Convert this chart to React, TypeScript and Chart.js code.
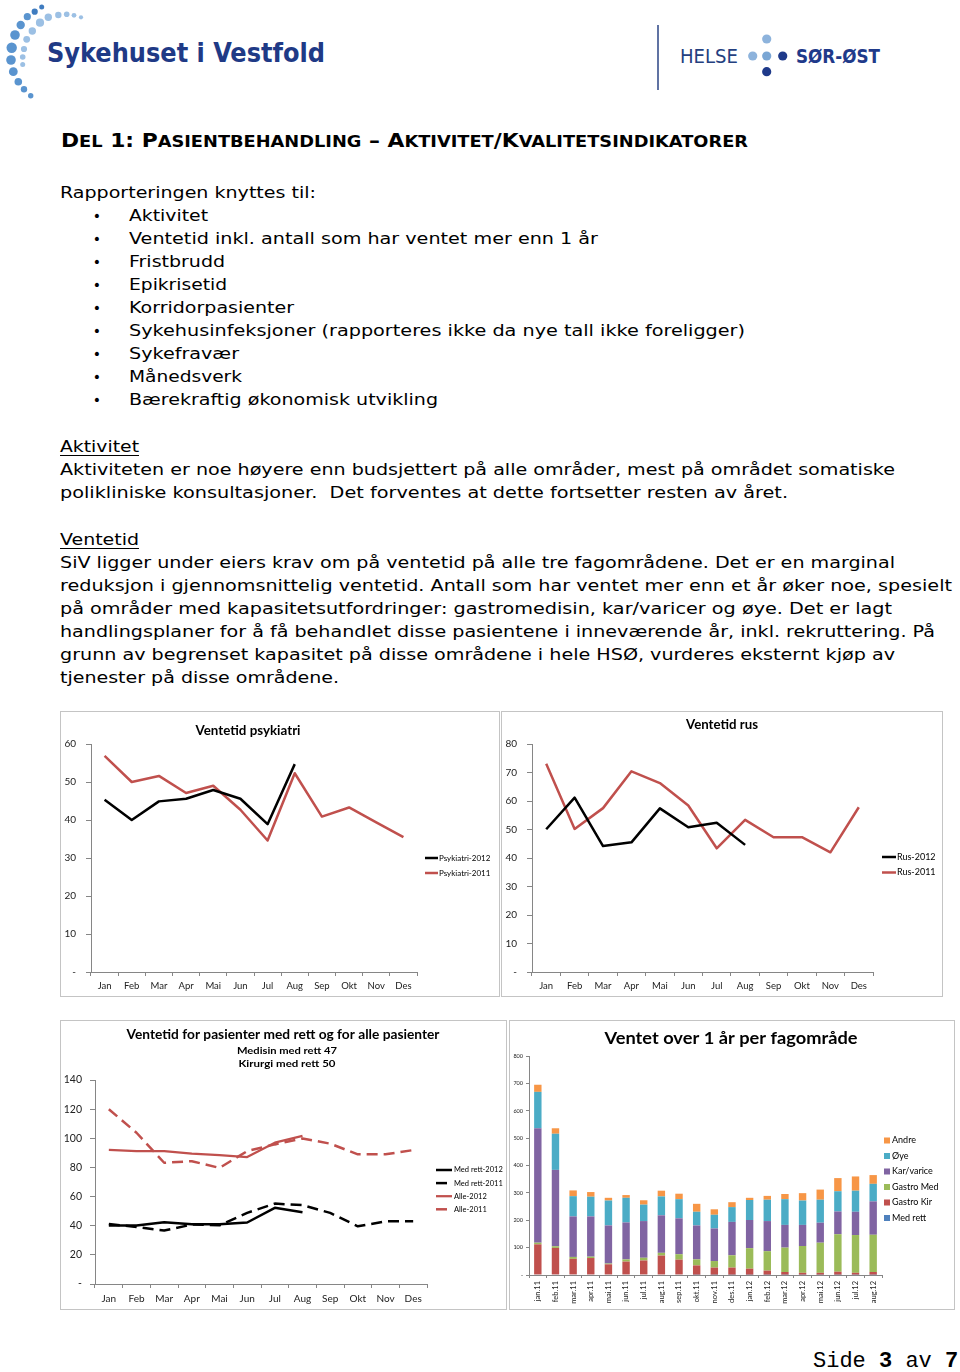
import React, { useEffect, useRef } from 'react';
import { Chart, registerables } from 'chart.js';
Chart.register(...registerables);

// ---------- DATA ----------
const months = ['Jan', 'Feb', 'Mar', 'Apr', 'Mai', 'Jun', 'Jul', 'Aug', 'Sep', 'Okt', 'Nov', 'Des'];

const psykiatri2012 = [45.3, 40.0, 44.9, 45.6, 47.9, 45.6, 38.9, 54.7];
const psykiatri2011 = [56.9, 50.0, 51.6, 47.1, 49.0, 42.7, 34.6, 52.3, 40.9, 43.3, 39.4, 35.5];

const rus2012 = [50.1, 61.2, 44.2, 45.5, 57.4, 50.8, 52.4, 44.6];
const rus2011 = [73.1, 50.2, 57.5, 70.4, 66.3, 58.4, 43.4, 53.4, 47.3, 47.3, 42.0, 57.8];

const medRett2012 = [40.1, 40.1, 42.4, 41.0, 41.0, 42.2, 52.3, 49.3];
const medRett2011 = [41.2, 39.1, 36.7, 40.8, 40.3, 48.8, 55.2, 54.1, 48.8, 39.6, 43.0, 43.0];
const alle2012 = [92.1, 91.2, 91.2, 89.4, 88.5, 87.1, 97.0, 101.7];
const alle2011 = [119.9, 103.8, 83.2, 84.3, 79.7, 91.2, 95.8, 99.9, 96.3, 89.0, 89.0, 91.9];

const periods = ['jan.11', 'feb.11', 'mar.11', 'apr.11', 'mai.11', 'jun.11', 'jul.11', 'aug.11', 'sep.11', 'okt.11', 'nov.11', 'des.11', 'jan.12', 'feb.12', 'mar.12', 'apr.12', 'mai.12', 'jun.12', 'jul.12', 'aug.12'];
const medRett = [2, 2, 2, 2, 2, 2, 2, 2, 2, 1, 1, 1, 1, 1, 1, 1, 1, 1, 1, 1];
const gastroKir = [110, 97, 57, 60, 37, 47, 51, 69, 54, 34, 26, 26, 22, 15, 10, 7, 7, 11, 7, 10];
const gastroMed = [6, 6, 7, 5, 3, 8, 10, 10, 20, 22, 24, 45, 75, 71, 89, 98, 110, 137, 138, 136];
const karVarice = [418, 279, 148, 147, 139, 135, 134, 137, 131, 124, 119, 122, 103, 110, 83, 77, 73, 83, 85, 122];
const oye = [133, 132, 74, 72, 91, 90, 60, 69, 70, 50, 50, 54, 73, 78, 94, 89, 84, 74, 77, 64];
const andre = [26, 20, 21, 17, 10, 10, 16, 21, 20, 29, 20, 18, 8, 14, 19, 27, 37, 48, 52, 32];

// ---------- STYLE ----------
const FONT = 'Lato, "Open Sans", sans-serif';
const AXIS = '#868686';
const RED = '#C0504D';
const BLACK = '#000000';

type TextSpec = { text: string; x: number; y: number; font: string; w?: number; color?: string };
type LegendSpec = {
  x: number; y: number; dy: number; textX: number; font: string;
  type: 'line' | 'box'; len?: number; box?: number; reverse?: boolean;
};

function overlay(texts: TextSpec[], legend?: LegendSpec) {
  return {
    id: 'overlay',
    afterDraw(chart: any) {
      const ctx = chart.ctx as CanvasRenderingContext2D;
      ctx.save();
      for (const t of texts) {
        ctx.font = t.font;
        ctx.fillStyle = t.color || '#000';
        ctx.textBaseline = 'middle';
        ctx.textAlign = 'center';
        const m = ctx.measureText(t.text).width;
        const sx = t.w ? t.w / m : 1;
        ctx.save();
        ctx.translate(t.x, t.y);
        ctx.scale(sx, 1);
        ctx.fillText(t.text, 0, 0);
        ctx.restore();
      }
      if (legend) {
        const list = chart.data.datasets.map((d: any) => d);
        const items = legend.reverse ? list.slice().reverse() : list;
        items.forEach((d: any, k: number) => {
          const y = legend.y + k * legend.dy;
          if (legend.type === 'box') {
            const b = legend.box || 6;
            ctx.fillStyle = d.backgroundColor;
            ctx.fillRect(legend.x, y - b / 2, b, b);
          } else {
            ctx.strokeStyle = d.borderColor;
            ctx.lineWidth = d.borderWidth;
            ctx.setLineDash(d.borderDash || []);
            ctx.beginPath();
            ctx.moveTo(legend.x, y);
            ctx.lineTo(legend.x + (legend.len || 14), y);
            ctx.stroke();
            ctx.setLineDash([]);
          }
          ctx.fillStyle = '#000';
          ctx.font = legend.font;
          ctx.textAlign = 'left';
          ctx.textBaseline = 'middle';
          ctx.fillText(d.label, legend.textX, y);
        });
      }
      ctx.restore();
    },
  };
}

type AxisP = {
  yMax: number; yStep: number; yWidth: number; xHeight: number;
  pad: { left: number; top: number; right: number; bottom: number };
  xSize: number; ySize: number; xPad: number; yPad: number; yTick: number; xTick: number;
  xRot?: number; stacked?: boolean;
};

function baseOptions(p: AxisP) {
  return {
    responsive: false,
    animation: false,
    layout: { padding: p.pad },
    plugins: { legend: { display: false }, title: { display: false }, tooltip: { enabled: false } },
    elements: { point: { radius: 0 }, line: { tension: 0, borderJoinStyle: 'round' } },
    scales: {
      x: {
        type: 'category',
        offset: true,
        stacked: !!p.stacked,
        grid: { display: true, drawOnChartArea: false, drawTicks: true, tickLength: p.xTick, color: AXIS, offset: true },
        border: { display: true, color: AXIS, width: 1 },
        ticks: {
          font: { family: FONT, size: p.xSize }, color: '#222', padding: p.xPad, autoSkip: false,
          minRotation: p.xRot || 0, maxRotation: p.xRot || 0,
        },
        afterFit: (s: any) => { s.height = p.xHeight; },
      },
      y: {
        min: 0, max: p.yMax,
        stacked: !!p.stacked,
        grid: { display: true, drawOnChartArea: false, drawTicks: true, tickLength: p.yTick, color: AXIS },
        border: { display: true, color: AXIS, width: 1 },
        ticks: {
          stepSize: p.yStep, font: { family: FONT, size: p.ySize }, color: '#222', padding: p.yPad,
          callback: (v: any) => (Number(v) === 0 ? '-' : String(v)),
        },
        afterFit: (s: any) => { s.width = p.yWidth; },
      },
    },
  };
}

function lineDs(label: string, data: number[], color: string, width: number, dash?: number[]) {
  return {
    label, data, borderColor: color, backgroundColor: color, borderWidth: width,
    borderDash: dash || [], fill: false, pointRadius: 0,
  };
}

function makePsyk() {
  return {
    type: 'line',
    data: {
      labels: months,
      datasets: [
        lineDs('Psykiatri-2012', psykiatri2012, BLACK, 2.5),
        lineDs('Psykiatri-2011', psykiatri2011, RED, 2.5),
      ],
    },
    options: baseOptions({
      yMax: 60, yStep: 10, yWidth: 30, xHeight: 24,
      pad: { left: 0, top: 32, right: 82, bottom: 0 },
      xSize: 9.5, ySize: 10, xPad: 4, yPad: 10, yTick: 5, xTick: 4,
    }),
    plugins: [overlay(
      [{ text: 'Ventetid psykiatri', x: 187, y: 19, font: `bold 13px ${FONT}`, w: 105 }],
      { x: 364, y: 146, dy: 15, textX: 378, font: `8px ${FONT}`, type: 'line', len: 13 },
    )],
  };
}

function makeRus() {
  return {
    type: 'line',
    data: {
      labels: months,
      datasets: [
        lineDs('Rus-2012', rus2012, BLACK, 2.5),
        lineDs('Rus-2011', rus2011, RED, 2.5),
      ],
    },
    options: baseOptions({
      yMax: 80, yStep: 10, yWidth: 30, xHeight: 24,
      pad: { left: 0, top: 32, right: 69, bottom: 0 },
      xSize: 9.5, ySize: 10, xPad: 4, yPad: 10, yTick: 5, xTick: 4,
    }),
    plugins: [overlay(
      [{ text: 'Ventetid rus', x: 220, y: 13, font: `bold 13px ${FONT}`, w: 72 }],
      { x: 380, y: 145, dy: 15.5, textX: 395, font: `9px ${FONT}`, type: 'line', len: 14 },
    )],
  };
}

function makeAlle() {
  return {
    type: 'line',
    data: {
      labels: months,
      datasets: [
        lineDs('Med rett-2012', medRett2012, BLACK, 2.5),
        lineDs('Med rett-2011', medRett2011, BLACK, 2.5, [11, 6]),
        lineDs('Alle-2012', alle2012, RED, 2.25),
        lineDs('Alle-2011', alle2011, RED, 2.5, [11, 6]),
      ],
    },
    options: baseOptions({
      yMax: 140, yStep: 20, yWidth: 34, xHeight: 25,
      pad: { left: 0, top: 59, right: 79, bottom: 0 },
      xSize: 10, ySize: 10.5, xPad: 5, yPad: 8, yTick: 5, xTick: 4,
    }),
    plugins: [overlay(
      [
        { text: 'Ventetid for pasienter med rett og for alle pasienter', x: 222, y: 14, font: `bold 13px ${FONT}`, w: 313 },
        { text: 'Medisin med rett 47', x: 226, y: 30, font: `bold 9.5px ${FONT}`, w: 100 },
        { text: 'Kirurgi med rett 50', x: 226, y: 43, font: `bold 9.5px ${FONT}`, w: 97 },
      ],
      { x: 375, y: 149, dy: 13.1, textX: 393, font: `7.5px ${FONT}`, type: 'line', len: 16 },
    )],
  };
}

function barDs(label: string, data: number[], color: string) {
  return { label, data, backgroundColor: color, borderWidth: 0, barPercentage: 0.42, categoryPercentage: 1 };
}

function makeBars() {
  return {
    type: 'bar',
    data: {
      labels: periods,
      datasets: [
        barDs('Med rett', medRett, '#4F81BD'),
        barDs('Gastro Kir', gastroKir, '#C0504D'),
        barDs('Gastro Med', gastroMed, '#9BBB59'),
        barDs('Kar/varice', karVarice, '#8064A2'),
        barDs('Øye', oye, '#4BACC6'),
        barDs('Andre', andre, '#F79646'),
      ],
    },
    options: baseOptions({
      yMax: 800, yStep: 100, yWidth: 19, xHeight: 34,
      pad: { left: 0, top: 35, right: 72, bottom: 0 },
      xSize: 7.5, ySize: 5.5, xPad: 3, yPad: 3, yTick: 3, xTick: 3, xRot: 90, stacked: true,
    }),
    plugins: [overlay(
      [{ text: 'Ventet over 1 år per fagområde', x: 221, y: 18, font: `bold 17px ${FONT}`, w: 253 }],
      { x: 374, y: 119.5, dy: 15.5, textX: 382, font: `9px ${FONT}`, type: 'box', box: 6, reverse: true },
    )],
  };
}

function ChartBox(props: { left: number; top: number; width: number; height: number; make: () => any }) {
  const ref = useRef<HTMLCanvasElement>(null);
  useEffect(() => {
    const chart = new Chart(ref.current as HTMLCanvasElement, props.make());
    return () => chart.destroy();
  }, []);
  const w = props.width - 2;
  const h = props.height - 2;
  return (
    <div style={{ position: 'absolute', left: props.left, top: props.top, width: w, height: h, border: '1px solid #c4c4c4', background: '#fff' }}>
      <canvas ref={ref} width={w} height={h} style={{ display: 'block', width: w, height: h }} />
    </div>
  );
}

// ---------- PAGE TEXT ----------
const BODY = '"DejaVu Sans", Verdana, sans-serif';

function Line(p: { x: number; y: number; w: number; t: string; size?: number; bold?: boolean }) {
  return (
    <text x={p.x} y={p.y} textLength={p.w} lengthAdjust="spacingAndGlyphs"
      fontFamily={BODY} fontSize={p.size || 16} fontWeight={p.bold ? 'bold' : 'normal'}
      style={{ whiteSpace: 'pre' }} fill="#000">{p.t}</text>
  );
}

// heading pieces: [text, isSmallCap]
const headingParts: [string, boolean][] = [
  ['D', false], ['EL', true], [' 1: ', false], ['P', false], ['ASIENTBEHANDLING', true], [' – ', false],
  ['A', false], ['KTIVITET', true], ['/', false], ['K', false], ['VALITETSINDIKATORER', true],
];

const outerDots = [[41.7, 7, 2.5], [34.7, 11.7, 3.1], [27.3, 16.7, 3.6], [20.7, 25, 4.2], [15, 35, 4.8], [11.7, 47.7, 5.2], [11, 60, 4.8], [13.3, 71.7, 4.4], [18.3, 81.7, 3.8], [24, 89.3, 3.2], [30.7, 95.7, 2.7]];
const innerDots = [[48.3, 17.3, 3.7], [58.3, 15, 3.2], [66.7, 14.3, 2.8], [74, 15.3, 2.4], [81, 17.3, 2.1], [40, 22.7, 4.1], [32.3, 31, 3.7], [26.7, 39.3, 3.4], [24, 49, 3.1], [22.7, 57, 2.8], [22.7, 64.5, 2.5]];

export default function App() {
  const bullets = [
    ['Aktivitet', 79],
    ['Ventetid inkl. antall som har ventet mer enn 1 år', 469],
    ['Fristbrudd', 96],
    ['Epikrisetid', 98],
    ['Korridorpasienter', 165],
    ['Sykehusinfeksjoner (rapporteres ikke da nye tall ikke foreligger)', 616],
    ['Sykefravær', 110],
    ['Månedsverk', 113],
    ['Bærekraftig økonomisk utvikling', 309],
  ] as [string, number][];
  return (
    <div style={{ position: 'absolute', left: 0, top: 0, width: 960, height: 1372, overflow: 'hidden', background: '#fff' }}>
      <svg width={960} height={1372} style={{ position: 'absolute', left: 0, top: 0 }}>
        {/* left logo */}
        {outerDots.map((d, i) => <circle key={'o' + i} cx={d[0]} cy={d[1]} r={d[2]} fill={i < 2 ? '#3f7cc0' : '#5a94cf'} />)}
        {innerDots.map((d, i) => <circle key={'i' + i} cx={d[0]} cy={d[1]} r={d[2]} fill="#9cc0e4" />)}
        <text x={47} y={62} textLength={278} lengthAdjust="spacingAndGlyphs" fontFamily='"DejaVu Sans Condensed", "DejaVu Sans", sans-serif'
          fontWeight="bold" fontSize={26} fill="#1f3a86">Sykehuset i Vestfold</text>
        {/* right logo */}
        <line x1={658} y1={25} x2={658} y2={90} stroke="#2b4585" strokeWidth={1.5} />
        <text x={680} y={63} textLength={58} lengthAdjust="spacingAndGlyphs" fontFamily={BODY} fontSize={19} fill="#24407f">HELSE</text>
        <circle cx={766.7} cy={39} r={4.6} fill="#8db3dc" />
        <circle cx={752.7} cy={56} r={4.6} fill="#8db3dc" />
        <circle cx={766.7} cy={56} r={4.6} fill="#7aa6d4" />
        <circle cx={782.7} cy={56} r={4.6} fill="#1f3a8a" />
        <circle cx={766.7} cy={71.7} r={4.6} fill="#1f3a8a" />
        <text x={796} y={63} textLength={84} lengthAdjust="spacingAndGlyphs" fontFamily={BODY} fontWeight="bold" fontSize={19} fill="#1f3a8a">SØR-ØST</text>

        {/* heading (small caps built from two sizes) */}
        <text x={61} y={147} textLength={687} lengthAdjust="spacingAndGlyphs" fontFamily={BODY} fontWeight="bold" fill="#000" style={{ whiteSpace: 'pre' }}>
          {headingParts.map((p, i) => <tspan key={i} fontSize={p[1] ? 15.5 : 19}>{p[0]}</tspan>)}
        </text>

        <Line x={60} y={198} w={256} t="Rapporteringen knyttes til:" />
        {bullets.map((b, i) => (
          <g key={i}>
            <text x={97} y={221 + i * 23} fontFamily={BODY} fontSize={14} textAnchor="middle" fill="#000">•</text>
            <Line x={129} y={221 + i * 23} w={b[1]} t={b[0]} />
          </g>
        ))}

        <Line x={60} y={452} w={79} t="Aktivitet" />
        <line x1={60} y1={455.5} x2={139} y2={455.5} stroke="#000" strokeWidth={1} />
        <Line x={60} y={475} w={835} t="Aktiviteten er noe høyere enn budsjettert på alle områder, mest på området somatiske" />
        <Line x={60} y={498} w={728} t="polikliniske konsultasjoner.  Det forventes at dette fortsetter resten av året." />

        <Line x={60} y={545} w={79} t="Ventetid" />
        <line x1={60} y1={548.5} x2={139} y2={548.5} stroke="#000" strokeWidth={1} />
        <Line x={60} y={568} w={835} t="SiV ligger under eiers krav om på ventetid på alle tre fagområdene. Det er en marginal" />
        <Line x={60} y={591} w={892} t="reduksjon i gjennomsnittelig ventetid. Antall som har ventet mer enn et år øker noe, spesielt" />
        <Line x={60} y={614} w={832} t="på områder med kapasitetsutfordringer: gastromedisin, kar/varicer og øye. Det er lagt" />
        <Line x={60} y={637} w={875} t="handlingsplaner for å få behandlet disse pasientene i inneværende år, inkl. rekruttering. På" />
        <Line x={60} y={660} w={835} t="grunn av begrenset kapasitet på disse områdene i hele HSØ, vurderes eksternt kjøp av" />
        <Line x={60} y={683} w={279} t="tjenester på disse områdene." />

        {/* footer */}
        <text x={813} y={1367} fontFamily='"Liberation Mono", "DejaVu Sans Mono", monospace' fontSize={22} fill="#000" style={{ whiteSpace: 'pre' }}>
          <tspan>Side </tspan><tspan fontWeight="bold">3</tspan><tspan> av </tspan><tspan fontWeight="bold">7</tspan>
        </text>
      </svg>

      <ChartBox left={60} top={711} width={440} height={286} make={makePsyk} />
      <ChartBox left={501} top={711} width={442} height={286} make={makeRus} />
      <ChartBox left={60} top={1020} width={447} height={290} make={makeAlle} />
      <ChartBox left={509} top={1020} width={446} height={290} make={makeBars} />
    </div>
  );
}
